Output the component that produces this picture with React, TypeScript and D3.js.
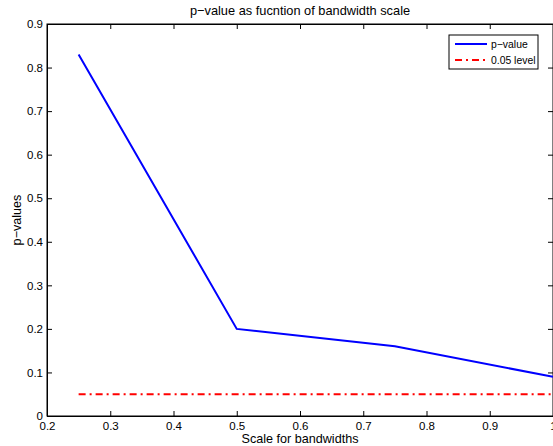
import React, { useEffect, useRef } from 'react'
import * as d3 from 'd3'

const scales = [0.25, 0.5, 0.75, 1.0]
const pValues = [0.83, 0.2, 0.16, 0.09]
const level = 0.05
const xTicks = [0.2, 0.3, 0.4, 0.5, 0.6, 0.7, 0.8, 0.9, 1]
const yTicks = [0, 0.1, 0.2, 0.3, 0.4, 0.5, 0.6, 0.7, 0.8, 0.9]
const legendLabels = ['p\u2212value', '0.05 level']

export default function App() {
  const ref = useRef<SVGSVGElement>(null)

  useEffect(() => {
    const svg = d3.select(ref.current)
    svg.selectAll('*').remove()
    const font = 'Liberation Sans, Arial, sans-serif'

    // axes box
    const left = 47, right = 553, top = 24, bottom = 416
    const x = d3.scaleLinear().domain([0.2, 1]).range([left, right])
    const y = d3.scaleLinear().domain([0, 0.9]).range([bottom, top])

    const g = svg.append('g')

    // bottom / left axes, ticks inward
    const fmt = (d: any) => (d === 0 ? '0' : d === 1 ? '1' : String(d))
    g.append('g')
      .attr('transform', `translate(0,${bottom})`)
      .call(d3.axisBottom(x).tickValues(xTicks).tickSize(-5).tickPadding(6).tickFormat(fmt))
    g.append('g')
      .attr('transform', `translate(${left},0)`)
      .call(d3.axisLeft(y).tickValues(yTicks).tickSize(-5).tickPadding(4).tickFormat(fmt))
    g.append('g')
      .attr('transform', `translate(0,${top})`)
      .call(d3.axisTop(x).tickValues(xTicks).tickSize(-5).tickFormat(() => ''))
    g.append('g')
      .attr('transform', `translate(${right},0)`)
      .call(d3.axisRight(y).tickValues(yTicks).tickSize(-5).tickFormat(() => ''))

    g.selectAll('.domain').attr('stroke', '#000').attr('stroke-width', 1)
    g.selectAll('.tick line').attr('stroke', '#000')
    g.selectAll('.tick text').attr('font-family', font).attr('font-size', 11.5).attr('fill', '#000')
    svg.append('rect')
      .attr('x', left).attr('y', top)
      .attr('width', right - left).attr('height', bottom - top)
      .attr('fill', 'none').attr('stroke', '#000')

    // data lines
    const line = d3.line<number>().x((d, i) => x(scales[i])).y(d => y(d))
    svg.append('path')
      .attr('d', line(pValues))
      .attr('fill', 'none')
      .attr('stroke', '#0000ff')
      .attr('stroke-width', 2)

    svg.append('path')
      .attr('d', line(scales.map(() => level)))
      .attr('fill', 'none')
      .attr('stroke', '#ff0000')
      .attr('stroke-width', 2)
      .attr('stroke-dasharray', '7,4,2,4')

    // title and labels
    svg.append('text')
      .attr('x', (left + right) / 2).attr('y', 15)
      .attr('text-anchor', 'middle')
      .attr('font-family', font).attr('font-size', 12.8)
      .text('p\u2212value as fucntion of bandwidth scale')
    svg.append('text')
      .attr('x', (left + right) / 2).attr('y', 443)
      .attr('text-anchor', 'middle')
      .attr('font-family', font).attr('font-size', 12.6)
      .text('Scale for bandwidths')
    svg.append('text')
      .attr('transform', `translate(21,${(top + bottom) / 2}) rotate(-90)`)
      .attr('text-anchor', 'middle')
      .attr('font-family', font).attr('font-size', 12.6)
      .text('p\u2212values')

    // legend
    const lg = svg.append('g')
    lg.append('rect')
      .attr('x', 449).attr('y', 35).attr('width', 89).attr('height', 34)
      .attr('fill', '#fff').attr('stroke', '#000')
    const colors = ['#0000ff', '#ff0000']
    const dashes = [null, '7,4,2,4']
    legendLabels.forEach((lab, i) => {
      const yy = 44 + i * 16
      lg.append('line')
        .attr('x1', 455).attr('x2', 487).attr('y1', yy).attr('y2', yy)
        .attr('stroke', colors[i]).attr('stroke-width', 2)
        .attr('stroke-dasharray', dashes[i])
      lg.append('text')
        .attr('x', 491).attr('y', yy + 4)
        .attr('font-family', font).attr('font-size', 10.4)
        .text(lab)
    })
  }, [])

  return (
    <svg ref={ref} width={553} height={446}
      style={{ position: 'absolute', left: 0, top: 0, background: '#fff' }} />
  )
}
